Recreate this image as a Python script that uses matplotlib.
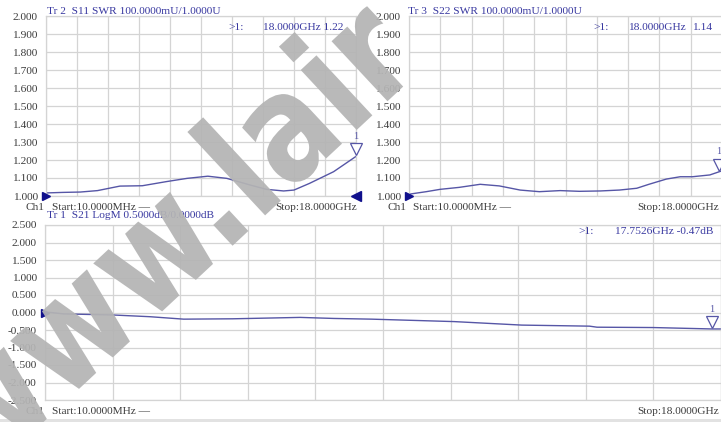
import numpy as np
import matplotlib
matplotlib.use("Agg")
import matplotlib.pyplot as plt
from matplotlib import transforms
from matplotlib.textpath import TextPath, text_to_path
from matplotlib.patches import PathPatch, Rectangle
from matplotlib.font_manager import FontProperties

# Tr 2: S11 SWR
s11_freq = [0.01, 1.0, 2.0, 3.0, 4.3, 5.6, 7.0, 8.2, 9.4, 10.5, 11.9, 12.8, 13.8, 14.4, 15.3, 16.7, 18.0]
s11_swr = [1.017, 1.02, 1.022, 1.03, 1.055, 1.057, 1.08, 1.098, 1.11, 1.098, 1.06, 1.037, 1.028, 1.033, 1.07, 1.135, 1.22]

# Tr 3: S22 SWR
s22_freq = [0.01, 1.0, 1.8, 2.9, 4.1, 5.2, 6.4, 7.5, 8.7, 9.8, 11.0, 12.1, 13.1, 13.8, 14.8, 15.6, 16.3, 17.3, 18.0]
s22_swr = [1.01, 1.024, 1.037, 1.048, 1.065, 1.056, 1.033, 1.024, 1.03, 1.026, 1.028, 1.033, 1.043, 1.065, 1.094, 1.107, 1.107, 1.117, 1.14]

# Tr 1: S21 LogM (dB)
s21_freq = [0.01, 0.5, 1.8, 2.8, 3.7, 5.0, 6.8, 7.7, 8.7, 10.9, 12.7, 14.5, 14.7, 16.2, 17.75, 18.0]
s21_db = [0.02, -0.04, -0.07, -0.12, -0.19, -0.18, -0.14, -0.17, -0.19, -0.26, -0.36, -0.39, -0.42, -0.43, -0.47, -0.47]

swr_ticks = np.round(np.arange(1.0, 2.001, 0.1), 3)
db_ticks = np.round(np.arange(-2.5, 2.501, 0.5), 3)

W, H = 721, 422
TRACE = "#5656a6"
TITLE = "#3838a0"
NAVY = "#10108c"
LABEL = "#3c3c3c"
GRID = "#d4d4d4"
FONT = "Liberation Serif"

fig = plt.figure(figsize=(W / 100, H / 100), dpi=100)
fig.patch.set_facecolor("white")


def px(x, y):
    return x / W, 1 - y / H


def txt(x, y, s, color=LABEL, ha="left", size=8.2):
    fig.text(*px(x, y), s, color=color, ha=ha, va="center", family=FONT, fontsize=size)


def panel(rect, ticks, fmt):
    ax = fig.add_axes(rect)
    ax.set_xlim(0.01, 18.0)
    ax.set_ylim(ticks[0], ticks[-1])
    ax.set_xticks(np.linspace(0.01, 18.0, 11))
    ax.set_yticks(ticks)
    ax.set_xticklabels([])
    ax.set_yticklabels([fmt % t for t in ticks], family=FONT, fontsize=8.2, color=LABEL)
    ax.tick_params(length=0, pad=6)
    ax.grid(True, color=GRID, lw=0.9)
    for sp in ax.spines.values():
        sp.set_color(GRID)
        sp.set_linewidth(0.9)
    return ax


def marker(ax, x, y):
    up = transforms.offset_copy(ax.transData, fig=fig, y=5, units="points")
    ax.plot([x], [y], marker="v", ms=9, mfc="white", mec=TRACE, mew=0.9,
            transform=up, clip_on=False, zorder=5)
    ax.annotate("1", (x, y), xytext=(0, 11), textcoords="offset points", ha="center",
                va="bottom", color=TRACE, family=FONT, fontsize=7.5, annotation_clip=False)


ax1 = panel([46 / W, 1 - 196 / H, 310 / W, 180 / H], swr_ticks, "%.3f")
ax1.plot(s11_freq, s11_swr, color=TRACE, lw=1.0)
ax1.plot([0.01], [1.0], marker=">", ms=6, color=NAVY, clip_on=False, zorder=6)
ax1.plot([18.0], [1.0], marker="<", ms=7, color=NAVY, clip_on=False, zorder=6)
marker(ax1, 18.0, 1.22)

ax2 = panel([409 / W, 1 - 196 / H, 313 / W, 180 / H], swr_ticks, "%.3f")
ax2.plot(s22_freq, s22_swr, color=TRACE, lw=1.0)
ax2.plot([0.01], [1.0], marker=">", ms=6, color=NAVY, clip_on=False, zorder=6)
marker(ax2, 17.8, 1.135)

ax3 = panel([45 / W, 1 - 400 / H, 676 / W, 175 / H], db_ticks, "%.3f")
ax3.plot(s21_freq, s21_db, color=TRACE, lw=1.0)
ax3.plot([0.01], [0.0], marker=">", ms=6, color=NAVY, clip_on=False, zorder=6)
marker(ax3, 17.75, -0.47)

# trace headers and marker readouts
txt(47, 12, "Tr 2  S11 SWR 100.0000mU/1.0000U", TITLE)
txt(408, 12, "Tr 3  S22 SWR 100.0000mU/1.0000U", TITLE)
txt(47, 216, "Tr 1  S21 LogM 0.5000dB/0.0000dB", TITLE)
txt(228, 27, ">1:", TITLE)
txt(263, 27, "18.0000GHz 1.22", TITLE)
txt(593, 27, ">1:", TITLE)
txt(628, 27, "18.0000GHz", TITLE)
txt(692, 27, "1.14", TITLE)
txt(578, 231, ">1:", TITLE)
txt(615, 231, "17.7526GHz -0.47dB", TITLE)

# channel footers
txt(25, 207, "Ch1")
txt(52, 207, "Start:10.0000MHz \u2014")
txt(357, 207, "Stop:18.0000GHz", ha="right")
txt(387, 207, "Ch1")
txt(413, 207, "Start:10.0000MHz \u2014")
txt(719, 207, "Stop:18.0000GHz", ha="right")
txt(25, 412, "Ch1")
txt(52, 412, "Start:10.0000MHz \u2014")
txt(719, 412, "Stop:18.0000GHz", ha="right")

fig.add_artist(Rectangle((0, 0), 1, 3 / H, transform=fig.transFigure, color="#e2e2e2", lw=0))

# watermark: condensed bold text, rotated, pinned at the dot after "www"
prop = FontProperties(family="DejaVu Sans", weight="bold", size=100)
wm = TextPath((0, 0), "www.lair", size=1, prop=prop)
dot_x = text_to_path.get_text_width_height_descent("www", prop, ismath=False)[0] / 100 + 0.19
em = 1.5  # inches per em
ang = 43
rot = transforms.Affine2D().scale(em * 0.82, em).rotate_deg(ang)
mx, my = rot.transform([dot_x, 0.1])
target = np.array([236 / 100, (H - 222) / 100])
tr = rot.translate(target[0] - mx, target[1] - my) + fig.dpi_scale_trans
fig.add_artist(PathPatch(wm, transform=tr, facecolor="#b4b4b4", edgecolor="none", alpha=0.93, zorder=20))

fig.savefig("out.png", dpi=100)
